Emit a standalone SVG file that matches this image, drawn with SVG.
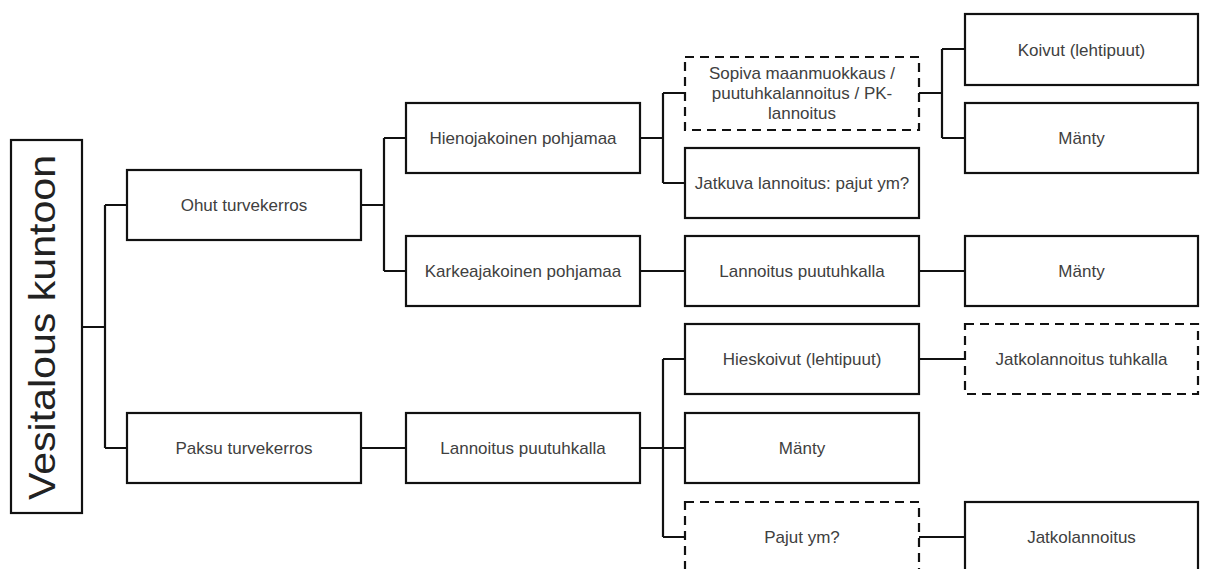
<svg xmlns="http://www.w3.org/2000/svg" width="1205" height="569" viewBox="0 0 1205 569">
<style>
.b{fill:#fff;stroke:#111;stroke-width:2.2}
.d{fill:#fff;stroke:#111;stroke-width:2.2;stroke-dasharray:9 6}
.t{font-family:"Liberation Sans",Arial,sans-serif;font-size:17px;fill:#404040;text-anchor:middle}
.r{font-family:"Liberation Sans",Arial,sans-serif;font-size:37px;fill:#222;text-anchor:middle}
.c{fill:none;stroke:#111;stroke-width:2.2}
</style>
<rect width="1205" height="569" fill="#fff"/>
<g id="connectors" class="c">
<path d="M82,327H105M105,205V448M105,205H127M105,448H127"/>
<path d="M361,205H384M384,138V271M384,138H406M384,271H406"/>
<path d="M640,138H663M663,93V183M663,93H685M663,183H685"/>
<path d="M919,93H942M942,49V138M942,49H965M942,138H965"/>
<path d="M640,271H685M919,271H965"/>
<path d="M361,448H406M640,448H663M663,359V537M663,359H685M663,448H685M663,537H685"/>
<path d="M919,359H965M919,537H965"/>
</g>
<g id="root"><rect class="b" x="11" y="140" width="71" height="373"/><text class="r" transform="translate(55,327.5) rotate(-90)" textLength="345" lengthAdjust="spacingAndGlyphs">Vesitalous kuntoon</text></g>
<g id="ohut"><rect class="b" x="127" y="170" width="234" height="70"/><text class="t" x="244" y="211">Ohut turvekerros</text></g>
<g id="paksu"><rect class="b" x="127" y="413" width="234" height="70"/><text class="t" x="244" y="454">Paksu turvekerros</text></g>
<g id="hieno"><rect class="b" x="406" y="103" width="234" height="70"/><text class="t" x="523" y="144">Hienojakoinen pohjamaa</text></g>
<g id="karkea"><rect class="b" x="406" y="236" width="234" height="70"/><text class="t" x="523" y="277">Karkeajakoinen pohjamaa</text></g>
<g id="lannoitus2"><rect class="b" x="406" y="413" width="234" height="70"/><text class="t" x="523" y="454">Lannoitus puutuhkalla</text></g>
<g id="sopiva"><rect class="d" x="685" y="57" width="234" height="73"/><text class="t" x="802"><tspan x="802" y="79">Sopiva maanmuokkaus /</tspan><tspan x="802" y="99">puutuhkalannoitus / PK-</tspan><tspan x="802" y="119">lannoitus</tspan></text></g>
<g id="jatkuva"><rect class="b" x="685" y="148" width="234" height="70"/><text class="t" x="802" y="189">Jatkuva lannoitus: pajut ym?</text></g>
<g id="lannoitus1"><rect class="b" x="685" y="236" width="234" height="70"/><text class="t" x="802" y="277">Lannoitus puutuhkalla</text></g>
<g id="hieskoivut"><rect class="b" x="685" y="324" width="234" height="70"/><text class="t" x="802" y="365">Hieskoivut (lehtipuut)</text></g>
<g id="manty3"><rect class="b" x="685" y="413" width="234" height="70"/><text class="t" x="802" y="454">Mänty</text></g>
<g id="pajut"><rect class="d" x="685" y="502" width="234" height="70"/><text class="t" x="802" y="543">Pajut ym?</text></g>
<g id="koivut"><rect class="b" x="965" y="14" width="233" height="71"/><text class="t" x="1081.5" y="55.5">Koivut (lehtipuut)</text></g>
<g id="manty1"><rect class="b" x="965" y="103" width="233" height="70"/><text class="t" x="1081.5" y="144">Mänty</text></g>
<g id="manty2"><rect class="b" x="965" y="236" width="233" height="70"/><text class="t" x="1081.5" y="277">Mänty</text></g>
<g id="jatkotuhka"><rect class="d" x="965" y="324" width="233" height="70"/><text class="t" x="1081.5" y="365">Jatkolannoitus tuhkalla</text></g>
<g id="jatkolannoitus"><rect class="b" x="965" y="502" width="233" height="70"/><text class="t" x="1081.5" y="543">Jatkolannoitus</text></g>
</svg>
